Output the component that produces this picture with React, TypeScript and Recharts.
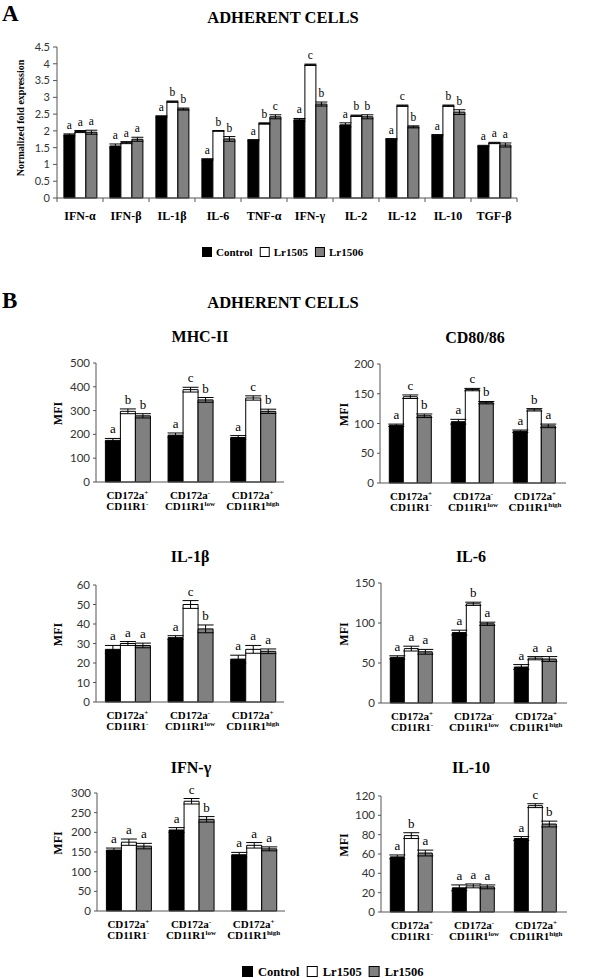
import React from "react";
import { BarChart, Bar, XAxis, YAxis, ErrorBar, LabelList } from "recharts";

// Panel A: normalized fold expression
const cytokines = ["IFN-α", "IFN-β", "IL-1β", "IL-6", "TNF-α", "IFN-γ", "IL-2", "IL-12", "IL-10", "TGF-β"];
const foldControl = [1.88, 1.55, 2.43, 1.15, 1.72, 2.33, 2.18, 1.75, 1.87, 1.55];
const foldLr1505 = [1.98, 1.65, 2.87, 2.0, 2.22, 3.97, 2.45, 2.75, 2.75, 1.64];
const foldLr1506 = [1.96, 1.75, 2.65, 1.76, 2.42, 2.8, 2.42, 2.12, 2.56, 1.58];
const foldControlErr = [0.03, 0.06, 0.02, 0.02, 0.02, 0.04, 0.06, 0.02, 0.02, 0.02];
const foldLr1505Err = [0.03, 0.03, 0.02, 0.01, 0.02, 0.02, 0.02, 0.02, 0.02, 0.02];
const foldLr1506Err = [0.06, 0.06, 0.03, 0.07, 0.06, 0.06, 0.06, 0.03, 0.07, 0.06];
const foldLetters = ["aaa", "aaa", "abb", "abb", "abc", "acb", "abb", "acb", "abb", "aaa"];
const foldTicks = [0, 0.5, 1, 1.5, 2, 2.5, 3, 3.5, 4, 4.5];

// Panel B: MFI by cell population
const cellNames = ["CD172a+ CD11R1-", "CD172a- CD11R1low", "CD172a+ CD11R1high"];
const cellSupTop = ["+", "-", "+"];
const cellSupBottom = ["-", "low", "high"];

const mhcValues = [[175, 297, 278], [197, 388, 345], [187, 353, 297]];
const mhcErrors = [[8, 10, 9], [9, 10, 10], [8, 9, 9]];
const mhcLetters = ["abb", "acb", "acb"];
const mhcTicks = [0, 100, 200, 300, 400, 500];

const cd80Values = [[97, 145, 113], [103, 157, 135], [87, 123, 96]];
const cd80Errors = [[2, 3, 3], [4, 2, 2], [2, 2, 3]];
const cd80Letters = ["acb", "acb", "aba"];
const cd80Ticks = [0, 50, 100, 150, 200];

const il1Values = [[27, 30, 29], [33, 50, 37.5], [22, 27, 26]];
const il1Errors = [[2, 1, 1.2], [1, 2, 2], [2, 2, 1.2]];
const il1Letters = ["aaa", "acb", "aaa"];
const il1Ticks = [0, 10, 20, 30, 40, 50, 60];

const il6Values = [[57, 68, 64], [88, 124, 99], [45, 56, 55]];
const il6Errors = [[2, 3, 3], [3, 2, 2], [3, 2, 3]];
const il6Letters = ["aaa", "aba", "aaa"];
const il6Ticks = [0, 50, 100, 150];

const ifngValues = [[155, 175, 165], [206, 279, 233], [143, 167, 158]];
const ifngErrors = [[5, 8, 7], [6, 7, 7], [6, 7, 5]];
const ifngLetters = ["aaa", "acb", "aaa"];
const ifngTicks = [0, 50, 100, 150, 200, 250, 300];

const il10Values = [[57, 79, 61], [25, 27, 26], [76, 110, 91]];
const il10Errors = [[2, 3, 3], [3, 2, 2], [2, 2, 3]];
const il10Letters = ["aba", "aaa", "acb"];
const il10Ticks = [0, 20, 40, 60, 80, 100, 120];

const serif = "'Liberation Serif', 'Times New Roman', serif";
const sans = "Lato, 'Noto Sans', sans-serif";
const axisColor = "#555";

const series = [
  { key: "control", name: "Control", fill: "#000" },
  { key: "lr1505", name: "Lr1505", fill: "#fff" },
  { key: "lr1506", name: "Lr1506", fill: "#808080" },
];

const foldData = cytokines.map((name, i) => {
  const vals = [foldControl[i], foldLr1505[i], foldLr1506[i]];
  const errs = [foldControlErr[i], foldLr1505Err[i], foldLr1506Err[i]];
  const row: any = { name };
  series.forEach((s, j) => {
    row[s.key] = vals[j];
    row[s.key + "Err"] = errs[j];
    row[s.key + "Tag"] = `${foldLetters[i][j]}|${errs[j]}|${vals[j]}`;
  });
  return row;
});

const panels = [
  { title: "MHC-II", values: mhcValues, errors: mhcErrors, letters: mhcLetters, ticks: mhcTicks },
  { title: "CD80/86", values: cd80Values, errors: cd80Errors, letters: cd80Letters, ticks: cd80Ticks },
  { title: "IL-1β", values: il1Values, errors: il1Errors, letters: il1Letters, ticks: il1Ticks },
  { title: "IL-6", values: il6Values, errors: il6Errors, letters: il6Letters, ticks: il6Ticks },
  { title: "IFN-γ", values: ifngValues, errors: ifngErrors, letters: ifngLetters, ticks: ifngTicks },
  { title: "IL-10", values: il10Values, errors: il10Errors, letters: il10Letters, ticks: il10Ticks },
];

const layout = [
  { left: 0, axisX: 96, right: 284, top: 363, bottom: 482, titleX: 200, titleY: 342 },
  { left: 300, axisX: 380, right: 566, top: 364, bottom: 483, titleX: 475, titleY: 343 },
  { left: 0, axisX: 96, right: 284, top: 585, bottom: 702, titleX: 190, titleY: 562 },
  { left: 300, axisX: 381, right: 567, top: 583, bottom: 703, titleX: 471, titleY: 562 },
  { left: 0, axisX: 97, right: 285, top: 793, bottom: 911, titleX: 191, titleY: 773 },
  { left: 300, axisX: 381, right: 567, top: 796, bottom: 912, titleX: 471, titleY: 773 },
];

const letterContent = (fontSize: number) => (p: any) => {
  const vb = p.viewBox || {};
  const x = Number(p.x ?? vb.x);
  const y = Number(p.y ?? vb.y);
  const w = Number(p.width ?? vb.width);
  const h = Number(p.height ?? vb.height);
  const [letter, err, val] = String(p.value).split("|");
  const top = Math.min(y, y + h);
  const errPx = Number(val) ? (Number(err) * Math.abs(h)) / Number(val) : 0;
  return (
    <text x={x + w / 2} y={top - errPx - 5} textAnchor="middle" fontFamily={serif} fontSize={fontSize} fill="#000">
      {letter}
    </text>
  );
};

const A_LEFT = 57;
const A_RIGHT = 517;

const FoldTick = (p: any) => {
  const { x, y, payload } = p;
  const band = (A_RIGHT - A_LEFT) / cytokines.length;
  const last = payload.index === cytokines.length - 1;
  return (
    <g>
      <line x1={x - band / 2} x2={x - band / 2} y1={y} y2={y + 4} stroke={axisColor} />
      {last && <line x1={x + band / 2} x2={x + band / 2} y1={y} y2={y + 4} stroke={axisColor} />}
      <text x={x} y={y + 22} textAnchor="middle" fontFamily={serif} fontWeight="bold" fontSize={12} fill="#000">
        {payload.value}
      </text>
    </g>
  );
};

const CellTick = (p: any) => {
  const { x, y, payload } = p;
  const i = payload.index;
  return (
    <g fontFamily={serif} fontWeight="bold" fill="#000">
      <text x={x} y={y + 17} textAnchor="middle" fontSize={11}>
        <tspan>CD172a</tspan>
        <tspan fontSize={7} dy={-4}>{cellSupTop[i]}</tspan>
      </text>
      <text x={x} y={y + 28} textAnchor="middle" fontSize={11}>
        <tspan>CD11R1</tspan>
        <tspan fontSize={7} dy={-4}>{cellSupBottom[i]}</tspan>
      </text>
    </g>
  );
};

function FoldChart() {
  return (
    <div style={{ position: "absolute", left: 0, top: 0 }}>
      <BarChart
        width={600}
        height={240}
        data={foldData}
        margin={{ top: 47, right: 600 - A_RIGHT, left: A_LEFT - 30, bottom: 12 }}
        barCategoryGap="15%"
        barGap={0}
      >
        <XAxis
          dataKey="name"
          height={30}
          tickLine={false}
          tickSize={0}
          tickMargin={0}
          interval={0}
          stroke={axisColor}
          tick={<FoldTick />}
        />
        <YAxis
          width={30}
          domain={[0, 4.5]}
          ticks={foldTicks}
          interval={0}
          tickSize={4}
          tickMargin={3}
          stroke={axisColor}
          tick={{ fontSize: 11, fill: "#333", fontFamily: sans }}
        />
        {series.map((s) => (
          <Bar key={s.key} dataKey={s.key} fill={s.fill} stroke="#000" strokeWidth={1} isAnimationActive={false}>
            <ErrorBar dataKey={s.key + "Err"} width={6} stroke="#000" strokeWidth={1} isAnimationActive={false} />
            <LabelList dataKey={s.key + "Tag"} content={letterContent(11.5)} />
          </Bar>
        ))}
      </BarChart>
    </div>
  );
}

function CellChart({ index }: { index: number }) {
  const panel = panels[index];
  const lay = layout[index];
  const data = cellNames.map((name, i) => {
    const row: any = { name };
    series.forEach((s, j) => {
      row[s.key] = panel.values[i][j];
      row[s.key + "Err"] = panel.errors[i][j];
      row[s.key + "Tag"] = `${panel.letters[i][j]}|${panel.errors[i][j]}|${panel.values[i][j]}`;
    });
    return row;
  });
  const max = panel.ticks[panel.ticks.length - 1];
  const yWidth = 35;
  return (
    <div style={{ position: "absolute", left: lay.left, top: lay.top - 20 }}>
      <BarChart
        width={300}
        height={lay.bottom - lay.top + 60}
        data={data}
        margin={{ top: 20, right: lay.left + 300 - lay.right, left: lay.axisX - lay.left - yWidth, bottom: 0 }}
        barCategoryGap="15%"
        barGap={0}
      >
        <XAxis
          dataKey="name"
          height={40}
          tickLine={false}
          tickSize={0}
          tickMargin={0}
          interval={0}
          stroke={axisColor}
          tick={<CellTick />}
        />
        <YAxis
          width={yWidth}
          domain={[0, max]}
          ticks={panel.ticks}
          interval={0}
          tickSize={3}
          tickMargin={3}
          stroke={axisColor}
          tick={{ fontSize: 11.5, fill: "#333", fontFamily: sans }}
        />
        {series.map((s) => (
          <Bar key={s.key} dataKey={s.key} fill={s.fill} stroke="#000" strokeWidth={1} isAnimationActive={false}>
            <ErrorBar dataKey={s.key + "Err"} width={8} stroke="#000" strokeWidth={1} isAnimationActive={false} />
            <LabelList dataKey={s.key + "Tag"} content={letterContent(13)} />
          </Bar>
        ))}
      </BarChart>
    </div>
  );
}

function LegendRow({ x, y, size, fontSize, gap, after }: any) {
  let cx = x;
  const items: any[] = [];
  series.forEach((s) => {
    items.push(<rect key={s.key + "r"} x={cx + 0.5} y={y + 0.5} width={size - 1} height={size - 1} fill={s.fill} stroke="#000" />);
    items.push(
      <text key={s.key + "t"} x={cx + size + gap} y={y + size - 1} fontFamily={serif} fontWeight="bold" fontSize={fontSize} fill="#000">
        {s.name}
      </text>
    );
    cx += size + gap + (s.name === "Control" ? 3.34 : 3.11) * fontSize + after;
  });
  return <g>{items}</g>;
}

export default function App() {
  return (
    <div style={{ position: "absolute", left: 0, top: 0, width: 600, height: 978, background: "#fff" }}>
      <svg width={600} height={978} style={{ position: "absolute", left: 0, top: 0 }}>
        <text x={2} y={21} fontFamily={serif} fontWeight="bold" fontSize={23}>A</text>
        <text x={283} y={23} textAnchor="middle" fontFamily={serif} fontWeight="bold" fontSize={16.5}>ADHERENT CELLS</text>
        <text
          x={24}
          y={118}
          textAnchor="middle"
          transform="rotate(-90 24 118)"
          fontFamily={serif}
          fontWeight="bold"
          fontSize={10}
        >
          Normalized fold expression
        </text>
        <LegendRow x={202} y={247} size={10} fontSize={11} gap={4} after={7} />

        <text x={2} y={308} fontFamily={serif} fontWeight="bold" fontSize={23}>B</text>
        <text x={283} y={308} textAnchor="middle" fontFamily={serif} fontWeight="bold" fontSize={16.5}>ADHERENT CELLS</text>
        {panels.map((p, i) => {
          const lay = layout[i];
          const my = (lay.top + lay.bottom) / 2 - 9;
          const mx = lay.left === 0 ? 62 : 348;
          return (
            <g key={p.title}>
              <text x={lay.titleX} y={lay.titleY} textAnchor="middle" fontFamily={serif} fontWeight="bold" fontSize={16}>
                {p.title}
              </text>
              <text
                x={mx}
                y={my}
                textAnchor="middle"
                transform={`rotate(-90 ${mx} ${my})`}
                fontFamily={serif}
                fontWeight="bold"
                fontSize={12}
              >
                MFI
              </text>
            </g>
          );
        })}
        <LegendRow x={242} y={966} size={11} fontSize={12.5} gap={5} after={7} />
      </svg>
      <FoldChart />
      {panels.map((p, i) => (
        <CellChart key={p.title} index={i} />
      ))}
    </div>
  );
}
